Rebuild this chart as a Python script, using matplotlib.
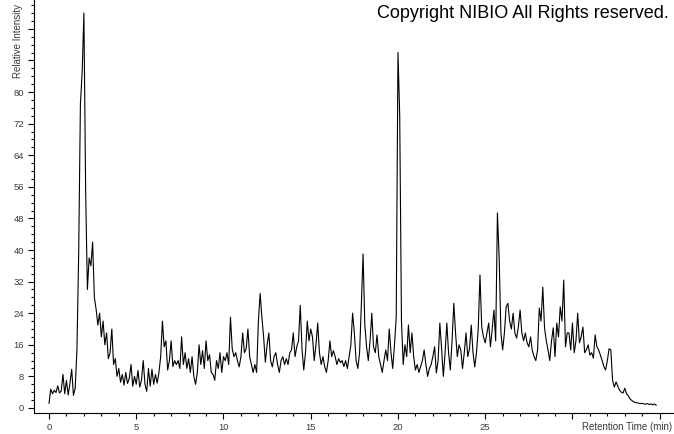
import numpy as np
import matplotlib
matplotlib.use("Agg")
import matplotlib.pyplot as plt
from matplotlib.ticker import MultipleLocator, FixedLocator

# retention time grid (min), one reading every 0.1 min
rt_start = 0.0
rt_step = 0.1

# relative intensity, 0.1 min apart
intensity_0 = [1.2, 4.8, 3.6, 4.5, 3.9, 5.6, 3.8, 4.3, 8.5, 3.6,
               7.0, 3.3, 6.2, 9.8, 3.2, 5.0, 14.5, 39, 77, 85,
               100, 55, 30, 38, 36, 42, 28, 25, 21, 24,
               18, 22, 16, 19, 12.5, 14, 20, 11, 12.5, 8]
intensity_4 = [10, 6.5, 8.5, 5.8, 9, 6.2, 7.5, 11, 5.5, 8,
               6, 9.5, 5.3, 7, 12, 6, 4.2, 10, 5.5, 9.8,
               6, 8.5, 6.3, 9, 13, 22, 15.5, 17, 9.6, 12,
               17, 10.5, 12, 11, 12, 10, 18, 11, 14, 10,
               12.5, 9, 13, 8, 6, 9, 16, 11, 14.5, 10,
               17, 12, 13.5, 9, 8.5, 7, 12, 10, 14, 9]
intensity_10 = [13, 12, 14, 11, 23, 15, 13, 14, 12, 10.4,
                13, 19, 14, 15, 20, 13, 11, 9, 11, 9,
                22, 29, 23, 18, 11.6, 16, 19, 12, 10.4, 13,
                14, 11, 9, 12, 13, 11, 12.5, 11, 14, 14.7,
                19, 13, 15.5, 17, 26, 15, 9.6, 14, 22, 17,
                20, 18, 12, 16, 21.5, 14, 11, 13, 10.5, 9,
                12, 17, 13, 14.5, 13, 11, 12.5, 11.5, 12, 10.5,
                12, 10, 13, 16, 24, 19, 12, 10, 14, 26,
                39, 21, 15.5, 12, 17, 24, 15.5, 14, 18.5, 13,
                11, 9, 12, 14.7, 12, 20, 14, 10, 16, 23]
intensity_20 = [90, 74, 22, 11, 16, 13, 21, 14, 19, 13,
                9.6, 11, 9, 10.5, 12, 14.7, 11, 8, 10, 11,
                13, 15.5, 8.9, 12, 21.5, 15, 8, 14, 21.5, 14,
                9.6, 17, 26.5, 19, 13, 16, 14.7, 10, 14, 19,
                13, 15, 21, 14, 10.4, 14, 20, 33.7, 20.5, 18,
                16.5, 19, 21.5, 15.5, 20, 24.8, 17, 49.4, 38, 19,
                14.7, 19, 25.6, 26.5, 22, 20, 24, 19, 17.7, 20.5,
                24.8, 19, 17, 19, 16.5, 15.5, 18, 14.5, 13, 12,
                14.7, 25.3, 22, 30.6, 20.3, 17, 14.7, 12, 17, 20.3,
                13, 21.5, 18, 25.6, 22, 32.4, 15.5, 19, 19, 14.7]
intensity_30 = [21.5, 14, 17, 24, 16.5, 18, 20.5, 14, 14.7, 16,
                13.4, 14, 12.6, 18.5, 15.5, 14.7, 13.4, 12, 10.5, 9.6,
                12, 15, 14.7, 7, 5.3, 6.6, 5.5, 4.5, 4, 3.8,
                5, 3.6, 3.1, 2.3, 1.9, 1.6, 1.4, 1.3, 1.2, 1.1,
                1.2, 1.0, 1.0, 1.1, 0.9, 1.0, 0.8, 1.0, 0.7]

intensity = np.array(intensity_0 + intensity_4 + intensity_10 + intensity_20 + intensity_30)
rt = rt_start + rt_step * np.arange(len(intensity))

x_major = [0, 5, 10, 15, 20, 25, 30, 35]
x_labels = ["0", "5", "10", "15", "20", "25", "", ""]
y_major = list(range(0, 104, 8))
y_labels = [str(v) if v <= 80 else "" for v in y_major]

plt.rcParams["font.family"] = ["Liberation Sans", "DejaVu Sans"]

fig = plt.figure(figsize=(6.74, 4.34), dpi=100)
ax = fig.add_axes([34 / 674, 21 / 434, 1 - 34 / 674, 1 - 21 / 434])

ax.plot(rt, intensity, color="black", lw=0.8)

ax.set_xlim(-0.86, 35.82)
ax.set_ylim(-1.27, 103.3)

ax.xaxis.set_major_locator(FixedLocator(x_major))
ax.set_xticklabels(x_labels)
ax.xaxis.set_minor_locator(MultipleLocator(1))
ax.yaxis.set_major_locator(FixedLocator(y_major))
ax.set_yticklabels(y_labels)
ax.yaxis.set_minor_locator(MultipleLocator(2))

ax.tick_params(which="major", length=4, width=0.8, labelsize=6.8,
               labelcolor="#3a3a3a", pad=3)
ax.tick_params(which="minor", length=2.5, width=0.8)

for side in ["top", "right"]:
    ax.spines[side].set_visible(False)
for side in ["left", "bottom"]:
    ax.spines[side].set_linewidth(0.8)

fig.text(672 / 674, 7 / 434, "Retention Time (min)", ha="right", va="center",
         fontsize=7, color="#3a3a3a")
fig.text(18 / 674, 1 - 78 / 434, "Relative Intensity", rotation=90,
         ha="center", va="bottom", fontsize=7, color="#3a3a3a")
fig.text(377 / 674, 1 - 14 / 434, "Copyright NIBIO All Rights reserved.",
         ha="left", va="center", fontsize=13, color="black")

fig.savefig("out.png", dpi=100)
